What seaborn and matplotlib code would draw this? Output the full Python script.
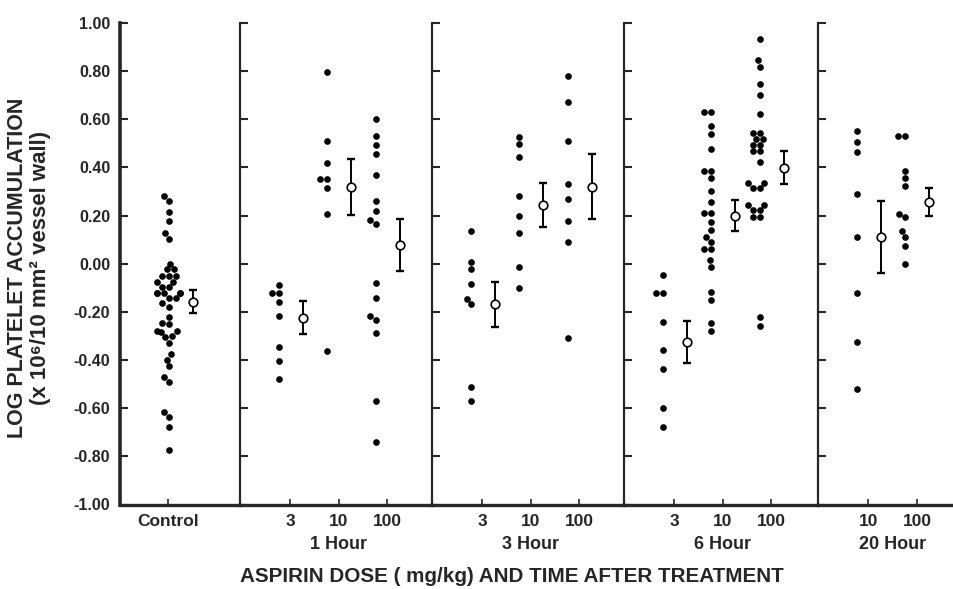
import matplotlib
matplotlib.use("Agg")
import matplotlib.pyplot as plt
import matplotlib.transforms as mtransforms
import numpy as np
import pandas as pd
import seaborn as sns

# ---------------- data ----------------
panels = ["Control", "1 Hour", "3 Hour", "6 Hour", "20 Hour"]
dose_labels = {
    "Control": ["Control"],
    "1 Hour": ["3", "10", "100"],
    "3 Hour": ["3", "10", "100"],
    "6 Hour": ["3", "10", "100"],
    "20 Hour": ["10", "100"],
}

control_vals = [0.283, 0.262, 0.216, 0.179, 0.126, 0.103, 0.00, -0.024, -0.024,
                -0.051, -0.051, -0.051, -0.075, -0.075, -0.097, -0.097,
                -0.123, -0.123, -0.123, -0.123, -0.123, -0.144, -0.144, -0.165,
                -0.179, -0.22, -0.245, -0.25, -0.28, -0.28, -0.285, -0.30, -0.305,
                -0.33, -0.375, -0.398, -0.425, -0.47, -0.49, -0.615, -0.636, -0.68,
                -0.772]
h1_d3 = [-0.089, -0.123, -0.123, -0.158, -0.216, -0.348, -0.403, -0.479]
h1_d10 = [0.796, 0.511, 0.417, 0.352, 0.352, 0.313, 0.208, -0.362]
h1_d100 = [0.60, 0.53, 0.491, 0.457, 0.367, 0.261, 0.219, 0.182, 0.164, -0.079,
           -0.143, -0.217, -0.234, -0.287, -0.57, -0.739]
h3_d3 = [0.135, 0.008, -0.022, -0.083, -0.147, -0.169, -0.513, -0.57]
h3_d10 = [0.526, 0.498, 0.442, 0.283, 0.20, 0.126, -0.015, -0.101]
h3_d100 = [0.78, 0.672, 0.511, 0.329, 0.268, 0.179, 0.089, -0.308]
h6_d3 = [-0.046, -0.123, -0.123, -0.241, -0.36, -0.439, -0.601, -0.679]
h6_d10 = [0.632, 0.632, 0.57, 0.538, 0.476, 0.383, 0.383, 0.355, 0.30, 0.258,
          0.21, 0.21, 0.175, 0.14, 0.112, 0.092, 0.061, 0.061, 0.015, -0.012,
          -0.116, -0.151, -0.245, -0.28]
h6_d100 = [0.933, 0.844, 0.817, 0.747, 0.701, 0.621, 0.542, 0.542, 0.518, 0.518,
           0.494, 0.494, 0.466, 0.466, 0.424, 0.334, 0.334, 0.313, 0.313, 0.244,
           0.244, 0.223, 0.223, 0.195, 0.195, -0.22, -0.258]
h20_d10 = [0.552, 0.507, 0.463, 0.288, 0.11, -0.123, -0.327, -0.522]
h20_d100 = [0.532, 0.532, 0.387, 0.355, 0.323, 0.205, 0.193, 0.137, 0.112, 0.075,
            -0.001]

# group means and SEM (open circles with error bars)
means = {
    "Control": [-0.158],
    "1 Hour": [-0.224, 0.319, 0.079],
    "3 Hour": [-0.169, 0.244, 0.320],
    "6 Hour": [-0.324, 0.200, 0.399],
    "20 Hour": [0.110, 0.258],
}
sems = {
    "Control": [0.047],
    "1 Hour": [0.070, 0.117, 0.108],
    "3 Hour": [0.092, 0.093, 0.135],
    "6 Hour": [0.087, 0.063, 0.068],
    "20 Hour": [0.149, 0.058],
}

values = {
    "Control": [control_vals],
    "1 Hour": [h1_d3, h1_d10, h1_d100],
    "3 Hour": [h3_d3, h3_d10, h3_d100],
    "6 Hour": [h6_d3, h6_d10, h6_d100],
    "20 Hour": [h20_d10, h20_d100],
}

yticks = [-1.0, -0.8, -0.6, -0.4, -0.2, 0.0, 0.2, 0.4, 0.6, 0.8, 1.0]

# ---------------- layout ----------------
W, H = 954, 589
edges_px = [120, 240, 432, 624, 818, 954]
y_bottom_px, y_top_px = 504.5, 22.9

sns.set_style("ticks")
plt.rcParams["font.family"] = ["Liberation Sans", "DejaVu Sans"]
plt.rcParams["font.weight"] = "bold"

fig = plt.figure(figsize=(W / 100, H / 100), dpi=100)

for i, p in enumerate(panels):
    x0, x1 = edges_px[i], edges_px[i + 1]
    ax = fig.add_axes([x0 / W, 1 - y_bottom_px / H, (x1 - x0) / W,
                       (y_bottom_px - y_top_px) / H])
    if p == "Control":
        ppu = 30.0                      # narrower swarm for the control column
        slots = [48.5 / ppu]
        dot_off, mean_off = 0.0, 24.5 / ppu
    else:
        ppu = 48.5
        slots = [k + 1.04 for k in range(len(dose_labels[p]))]
        dot_off, mean_off = -0.24, 0.25
    width_units = (x1 - x0) / ppu

    rows = []
    for s, vals in zip(slots, values[p]):
        for v in vals:
            rows.append({"pos": s + dot_off, "value": v})
    df = pd.DataFrame(rows)
    sns.swarmplot(data=df, x="pos", y="value", native_scale=True, ax=ax,
                  color="black", size=4.8, linewidth=0, warn_thresh=1.0)

    mx = [s + mean_off for s in slots]
    ax.errorbar(mx, means[p], yerr=sems[p], fmt="none", ecolor="black",
                elinewidth=1.4, capsize=3.2, capthick=1.7, zorder=3)
    ax.plot(mx, means[p], "o", mfc="white", mec="black", ms=6.2, mew=1.2,
            zorder=4, ls="none")

    ax.set_xlim(0, width_units)
    ax.set_ylim(-1.0, 1.0)
    ax.set_yticks(yticks)
    ax.set_xticks(slots)
    ax.set_xlabel("")
    ax.set_ylabel("")
    ax.patch.set_alpha(0)

    ax.spines["top"].set_visible(False)
    ax.spines["right"].set_visible(False)
    ax.spines["bottom"].set_linewidth(2.4)
    ax.spines["left"].set_linewidth(2.6 if i == 0 else 1.6)

    ax.tick_params(axis="y", direction="in", length=5.5, width=1.5,
                   pad=7, labelsize=11.5)
    ax.tick_params(axis="x", direction="in", length=4.5, width=1.2,
                   pad=7, labelsize=12.5)
    ax.set_xticklabels(dose_labels[p], fontweight="bold")
    if i == 0:
        ax.set_yticklabels([f"{t:.2f}" for t in yticks], fontweight="bold")
    else:
        ax.tick_params(axis="y", labelleft=False)
        trans = mtransforms.blended_transform_factory(ax.transData, ax.transAxes)
        ax.text(np.mean(slots), -0.084, p, transform=trans, ha="center",
                va="center", fontsize=13, fontweight="bold")

fig.text(512 / W, 1 - 577 / H, "ASPIRIN DOSE ( mg/kg) AND TIME AFTER TREATMENT",
         ha="center", va="center", fontsize=14.9, fontweight="bold")
fig.text(18 / W, 1 - 268 / H, "LOG PLATELET ACCUMULATION", rotation=90,
         ha="center", va="center", fontsize=15.5, fontweight="bold")
fig.text(41 / W, 1 - 268 / H, "(x 10\u2076/10 mm\u00b2 vessel wall)", rotation=90,
         ha="center", va="center", fontsize=16, fontweight="bold")

fig.savefig("out.png", dpi=100, facecolor="white")
